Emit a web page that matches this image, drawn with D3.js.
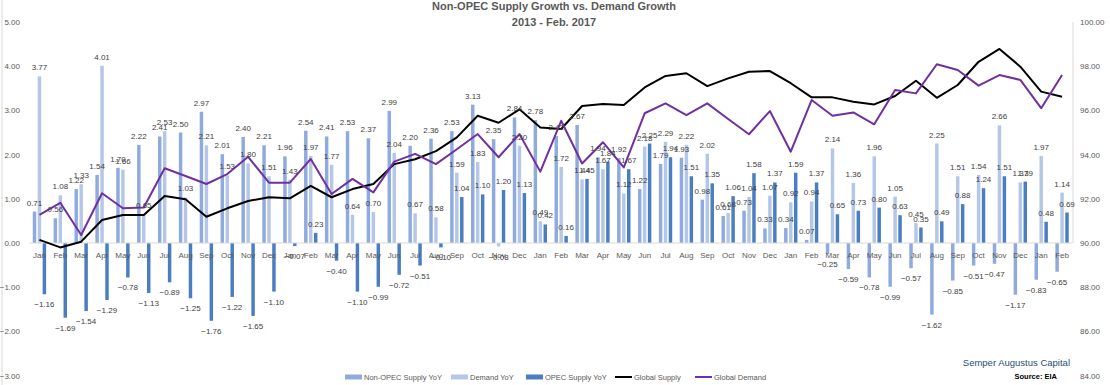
<!DOCTYPE html>
<html><head><meta charset="utf-8">
<script src="https://cdn.jsdelivr.net/npm/d3@7/dist/d3.min.js"></script>
<style>body{margin:0;background:#fff}svg{display:block}text{font-family:"Liberation Sans",Arial,sans-serif}</style>
</head><body><svg id="c" width="1110" height="385"></svg>
<script>
const monthNames = ["Jan","Feb","Mar","Apr","May","Jun","Jul","Aug","Sep","Oct","Nov","Dec"];
const categories = [].concat(monthNames, monthNames, monthNames, monthNames, ["Jan","Feb"]);
const seriesNames = ["Non-OPEC Supply YoY","Demand YoY","OPEC Supply YoY"];
const nonOpec = [0.71,0.56,1.22,1.54,1.70,2.22,2.41,2.50,2.97,2.01,2.40,2.21,
1.96,2.54,2.41,2.53,2.37,2.99,2.20,2.36,2.53,3.13,2.35,2.84,
2.78,2.42,2.67,1.94,1.92,1.22,1.79,1.93,0.98,0.61,0.73,0.33,
0.34,0.07,-0.25,-0.59,-0.78,-0.99,-0.57,-1.62,-0.85,-0.51,-0.47,-1.17,
-0.83,-0.65];
const demand = [3.77,1.08,1.33,4.01,1.66,0.65,2.53,1.03,2.21,1.53,1.80,1.51,
1.43,1.97,1.77,0.64,0.70,2.04,0.67,0.58,1.59,1.83,-0.08,2.20,
0.49,1.72,1.44,1.67,1.12,2.18,2.29,2.22,2.02,0.68,1.04,1.07,
0.92,0.94,2.14,1.36,1.96,1.05,0.45,2.25,1.51,1.54,2.66,1.37,
1.97,1.14];
const opec = [-1.16,-1.69,-1.54,-1.29,-0.78,-1.13,-0.89,-1.25,-1.76,-1.22,-1.65,-1.10,
-0.07,0.23,-0.40,-1.10,-0.99,-0.72,-0.51,-0.10,1.04,1.10,1.20,1.13,
0.42,0.16,1.45,1.84,1.67,2.25,1.94,1.51,1.35,1.06,1.58,1.37,
1.59,1.37,0.65,0.73,0.80,0.63,0.35,0.49,0.88,1.24,1.51,1.39,
0.48,0.69];
const globalSupply = [90.14,89.80,90.06,91.04,91.27,91.27,92.13,91.98,91.19,91.57,91.90,92.07,
92.02,92.58,92.07,92.44,92.67,93.57,93.79,94.16,94.78,95.76,95.44,96.05,
95.23,95.16,96.20,96.29,96.24,97.04,97.56,97.68,97.10,97.45,97.75,97.78,
97.23,96.59,96.59,96.39,96.27,96.65,97.34,96.57,97.15,98.20,98.78,97.98,
96.85,96.62];
const globalDemand = [91.27,91.82,90.36,92.25,91.57,91.61,93.38,93.03,92.67,93.12,93.90,92.73,
92.73,93.80,92.22,92.90,92.29,93.68,94.03,93.57,94.24,94.93,93.88,94.93,
93.23,95.53,93.60,94.56,93.42,95.87,96.32,95.79,96.32,95.61,94.92,95.97,
94.13,96.47,95.76,95.91,95.37,96.92,96.77,98.09,97.83,97.12,97.60,97.38,
96.10,97.60];
const leftTicks = [-3,-2,-1,0,1,2,3,4,5];
const rightTicks = [84,86,88,90,92,94,96,98,100];

const colors = ["#8FAADC","#B4C7E7","#4A7EC0"];
const svg = d3.select("#c");
const W = 1110, H = 385;
const x0 = 29, x1 = 1072.5, yTop = 22, yBot = 375.6;

const idx = categories.map((d,i)=>i);
const x = d3.scaleBand().domain(idx).range([x0,x1]).paddingInner(0.36).paddingOuter(0.18);
const xs = d3.scaleBand().domain([0,1,2]).range([0,x.bandwidth()]).paddingInner(0.3);
const yL = d3.scaleLinear().domain([-3,5]).range([yBot,yTop]);
const yR = d3.scaleLinear().domain([84,100]).range([yBot,yTop]);
const cx = i => x(i) + x.bandwidth()/2;

// border line left
svg.append("line").attr("x1",2).attr("x2",2).attr("y1",0).attr("y2",H).attr("stroke","#D9D9D9");

// left axis labels
const gl = svg.append("g");
gl.selectAll("text").data(leftTicks).join("text")
  .attr("x",20).attr("y",d=>yL(d)+3).attr("text-anchor","end")
  .attr("font-size",8).attr("fill","#595959").text(d=>d3.format(".2f")(d));
// right axis
const gr = svg.append("g");
gr.selectAll("text").data(rightTicks).join("text")
  .attr("x",1080).attr("y",d=>yR(d)+3).attr("text-anchor","start")
  .attr("font-size",8).attr("fill","#595959").text(d=>d3.format(".2f")(d));
svg.append("line").attr("x1",1073).attr("x2",1073).attr("y1",yTop).attr("y2",yL(0)).attr("stroke","#D9D9D9");

// bars
const series = [nonOpec, demand, opec];
series.forEach((vals,s)=>{
  svg.append("g").selectAll("rect").data(vals).join("rect")
    .attr("x",(d,i)=>x(i)+xs(s)).attr("width",xs.bandwidth())
    .attr("y",d=>yL(Math.max(0,d))).attr("height",d=>Math.abs(yL(d)-yL(0)))
    .attr("fill",colors[s]);
});
// zero axis
svg.append("line").attr("x1",x0).attr("x2",x1).attr("y1",yL(0)).attr("y2",yL(0)).attr("stroke","#D9D9D9");

// category labels
svg.append("g").selectAll("text").data(categories).join("text")
  .attr("x",(d,i)=>cx(i)).attr("y",yL(0)+15).attr("text-anchor","middle")
  .attr("font-size",8).attr("fill","#595959").text(d=>d);

// lines
const line = d3.line().x((d,i)=>cx(i)).y(d=>yR(d));
svg.append("path").datum(globalSupply).attr("d",line).attr("fill","none").attr("stroke","#000").attr("stroke-width",2).attr("stroke-linejoin","round");
svg.append("path").datum(globalDemand).attr("d",line).attr("fill","none").attr("stroke","#7030A0").attr("stroke-width",2).attr("stroke-linejoin","round");

// data labels
series.forEach((vals,s)=>{
  svg.append("g").selectAll("text").data(vals).join("text")
    .attr("x",(d,i)=>x(i)+xs(s)+xs.bandwidth()/2)
    .attr("y",d=> d>=0 ? yL(d)-6 : yL(d)+13)
    .attr("text-anchor","middle").attr("font-size",8).attr("fill","#404040")
    .text(d=>d3.format(".2f")(d));
});

// title
svg.append("text").attr("x",554).attr("y",10).attr("text-anchor","middle").attr("font-size",11).attr("font-weight","bold").attr("fill","#595959").text("Non-OPEC Supply Growth vs. Demand Growth");
svg.append("text").attr("x",554).attr("y",26).attr("text-anchor","middle").attr("font-size",11).attr("font-weight","bold").attr("fill","#595959").text("2013 - Feb. 2017");

// legend
const legend = [
  {name:seriesNames[0], type:"bar", color:colors[0], x:345},
  {name:seriesNames[1], type:"bar", color:colors[1], x:451},
  {name:seriesNames[2], type:"bar", color:colors[2], x:526},
  {name:"Global Supply", type:"line", color:"#000", x:615},
  {name:"Global Demand", type:"line", color:"#7030A0", x:695}
];
const lg = svg.append("g").selectAll("g").data(legend).join("g").attr("transform",d=>`translate(${d.x},377)`);
lg.each(function(d){
  const g = d3.select(this);
  if(d.type==="bar") g.append("rect").attr("x",0).attr("y",-2.5).attr("width",17).attr("height",5).attr("fill",d.color);
  else g.append("line").attr("x1",0).attr("x2",17).attr("y1",0).attr("y2",0).attr("stroke",d.color).attr("stroke-width",2);
  g.append("text").attr("x",19).attr("y",3).attr("font-size",7.5).attr("fill","#595959").text(d.name);
});

svg.append("text").attr("x",1070).attr("y",366).attr("text-anchor","end").attr("font-size",9.5).attr("fill","#1F4E79").text("Semper Augustus Capital");
svg.append("text").attr("x",1057).attr("y",379).attr("text-anchor","end").attr("font-size",7.5).attr("font-weight","bold").attr("fill","#000").text("Source: EIA");
</script></body></html>
